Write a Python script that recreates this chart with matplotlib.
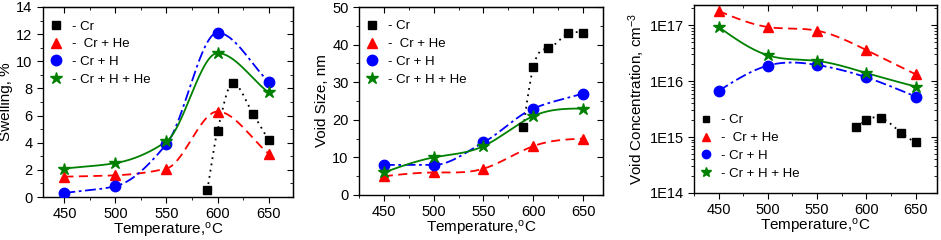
import numpy as np
import matplotlib.pyplot as plt
from matplotlib.ticker import MultipleLocator, LogLocator, NullFormatter, FuncFormatter

plt.rcParams["font.family"] = ["Liberation Sans", "DejaVu Sans"]
plt.rcParams["mathtext.fontset"] = "custom"
plt.rcParams["mathtext.rm"] = "Liberation Sans"
plt.rcParams["mathtext.it"] = "Liberation Sans"

labels = ["- Cr", "-  Cr + He", "- Cr + H", "- Cr + H + He"]

t_cr = [590, 600, 615, 635, 650]
t_all = [450, 500, 550, 600, 650]

swell_cr = [0.5, 4.9, 8.4, 6.1, 4.2]
swell_he = [1.5, 1.6, 2.1, 6.3, 3.2]
swell_h = [0.3, 0.8, 3.9, 12.1, 8.5]
swell_hhe = [2.1, 2.5, 4.1, 10.6, 7.7]

size_cr = [18, 34, 39, 43, 43]
size_he = [5, 6, 7, 13, 15]
size_h = [8, 8, 14, 23, 27]
size_hhe = [6, 10, 13, 21, 23]

conc_cr = [1.5e15, 2.0e15, 2.2e15, 1.2e15, 8e14]
conc_he = [1.8e17, 9.3e16, 8.0e16, 3.6e16, 1.33e16]
conc_h = [6.7e15, 1.9e16, 1.95e16, 1.17e16, 5.3e15]
conc_hhe = [9.3e16, 2.9e16, 2.3e16, 1.4e16, 8.0e15]


def natural_spline(x, y, n=200):
    x = np.asarray(x, float)
    y = np.asarray(y, float)
    k = len(x)
    h = np.diff(x)
    A = np.zeros((k, k))
    b = np.zeros(k)
    A[0, 0] = A[-1, -1] = 1
    for i in range(1, k - 1):
        A[i, i - 1] = h[i - 1]
        A[i, i] = 2 * (h[i - 1] + h[i])
        A[i, i + 1] = h[i]
        b[i] = 6 * ((y[i + 1] - y[i]) / h[i] - (y[i] - y[i - 1]) / h[i - 1])
    m = np.linalg.solve(A, b)
    xs = np.linspace(x[0], x[-1], n)
    idx = np.clip(np.searchsorted(x, xs) - 1, 0, k - 2)
    x0, x1 = x[idx], x[idx + 1]
    hh = x1 - x0
    a = (x1 - xs) / hh
    c = (xs - x0) / hh
    ys = (a * y[idx] + c * y[idx + 1]
          + ((a ** 3 - a) * m[idx] + (c ** 3 - c) * m[idx + 1]) * hh ** 2 / 6)
    return xs, ys


def pchip(x, y, n=200):
    # monotone cubic (Fritsch-Carlson), extrema stay on the points
    x = np.asarray(x, float)
    y = np.asarray(y, float)
    h = np.diff(x)
    d = np.diff(y) / h
    m = np.zeros_like(y)
    for i in range(1, len(x) - 1):
        if d[i - 1] * d[i] > 0:
            w1 = 2 * h[i] + h[i - 1]
            w2 = h[i] + 2 * h[i - 1]
            m[i] = (w1 + w2) / (w1 / d[i - 1] + w2 / d[i])
    m[0] = d[0]
    m[-1] = d[-1]
    xs = np.linspace(x[0], x[-1], n)
    idx = np.clip(np.searchsorted(x, xs) - 1, 0, len(x) - 2)
    t = (xs - x[idx]) / h[idx]
    h00 = 2 * t ** 3 - 3 * t ** 2 + 1
    h10 = t ** 3 - 2 * t ** 2 + t
    h01 = -2 * t ** 3 + 3 * t ** 2
    h11 = t ** 3 - t ** 2
    ys = (h00 * y[idx] + h10 * h[idx] * m[idx]
          + h01 * y[idx + 1] + h11 * h[idx] * m[idx + 1])
    return xs, ys


styles = [
    dict(color="black", ls=(0, (1, 2.5)), marker="s", ms=6),
    dict(color="red", ls=(0, (5, 3)), marker="^", ms=7),
    dict(color="blue", ls=(0, (6, 2, 1.5, 2)), marker="o", ms=7.5),
    dict(color="green", ls="-", marker="*", ms=9),
]

fig = plt.figure(figsize=(9.41, 2.4), dpi=100)
ax1 = fig.add_axes([0.0457, 0.179, 0.2657, 0.792])
ax2 = fig.add_axes([0.3815, 0.1875, 0.2593, 0.783])
ax3 = fig.add_axes([0.7375, 0.196, 0.2585, 0.783])

# interpolation per panel; blue void size stays flat between 450 and 500
panels = [
    (ax1, [swell_cr, swell_he, swell_h, swell_hhe], False,
     [pchip, pchip, pchip, pchip]),
    (ax2, [size_cr, size_he, size_h, size_hhe], False,
     [natural_spline, natural_spline, pchip, natural_spline]),
    (ax3, [conc_cr, conc_he, conc_h, conc_hhe], True,
     [natural_spline] * 4),
]

for ax, series, logy, interps in panels:
    for i, (ys, st, interp) in enumerate(zip(series, styles, interps)):
        xs = t_cr if i == 0 else t_all
        if logy:
            sx, sy = interp(xs, np.log10(ys))
            sy = 10 ** sy
        else:
            sx, sy = interp(xs, ys)
        ax.plot(sx, sy, color=st["color"], ls=st["ls"], lw=1.3, zorder=2)
        ax.plot(xs, ys, ls="none", marker=st["marker"], ms=st["ms"],
                color=st["color"], label=labels[i], zorder=3)
    ax.set_xticks(t_all)
    ax.xaxis.set_minor_locator(MultipleLocator(25))
    ax.tick_params(which="both", direction="out", top=False, right=False,
                   labelsize=10.5)
    ax.tick_params(which="major", length=4)
    ax.tick_params(which="minor", length=2)
    sec_x = ax.secondary_xaxis("top")
    sec_x.set_xticks(t_all)
    sec_x.xaxis.set_minor_locator(MultipleLocator(25))
    sec_x.tick_params(which="both", direction="in", labeltop=False)
    sec_x.tick_params(which="major", length=4)
    sec_x.tick_params(which="minor", length=2)
    ax.set_xlabel("Temperature,$^{\\mathregular{o}}$C", fontsize=11, labelpad=0)
    for sp in ax.spines.values():
        sp.set_linewidth(1.0)

ax1.set_xlim(429, 674)
ax1.set_ylim(0, 14)
ax1.yaxis.set_major_locator(MultipleLocator(2))
ax1.yaxis.set_minor_locator(MultipleLocator(1))
ax1.set_ylabel("Swelling, %", fontsize=11, labelpad=2)

ax2.set_xlim(425, 670)
ax2.set_ylim(0, 50)
ax2.yaxis.set_major_locator(MultipleLocator(10))
ax2.yaxis.set_minor_locator(MultipleLocator(5))
ax2.set_ylabel("Void Size, nm", fontsize=11, labelpad=2)

ax3.set_xlim(425, 672)
ax3.set_yscale("log")
ax3.set_ylim(1e14, 2.3e17)
ax3.yaxis.set_major_locator(LogLocator(base=10, numticks=10))
ax3.yaxis.set_minor_locator(LogLocator(base=10, subs=np.arange(2, 10), numticks=10))
ax3.yaxis.set_minor_formatter(NullFormatter())
ax3.yaxis.set_major_formatter(FuncFormatter(lambda v, p: "1E%d" % round(np.log10(v))))
ax3.set_ylabel("Void Concentration, cm$^{\\mathregular{-3}}$", fontsize=11, labelpad=2)

for ax in (ax1, ax2, ax3):
    sec_y = ax.secondary_yaxis("right")
    if ax is ax3:
        sec_y.yaxis.set_major_locator(LogLocator(base=10, numticks=10))
        sec_y.yaxis.set_minor_locator(LogLocator(base=10, subs=np.arange(2, 10), numticks=10))
    else:
        sec_y.yaxis.set_major_locator(ax.yaxis.get_major_locator())
        sec_y.yaxis.set_minor_locator(ax.yaxis.get_minor_locator())
    sec_y.tick_params(which="both", direction="in", labelright=False)
    sec_y.tick_params(which="major", length=4)
    sec_y.tick_params(which="minor", length=2)

leg_kw = dict(frameon=False, fontsize=9.5, handletextpad=0.5, labelspacing=0.42,
              borderaxespad=0.0, borderpad=0.0, handlelength=1.4)
ax1.legend(loc="upper left", bbox_to_anchor=(0.015, 0.93), **leg_kw)
ax2.legend(loc="upper left", bbox_to_anchor=(0.015, 0.93), **leg_kw)
ax3.legend(loc="lower left", bbox_to_anchor=(0.01, 0.07), markerscale=0.8, **leg_kw)

fig.savefig("out.png", dpi=100)
